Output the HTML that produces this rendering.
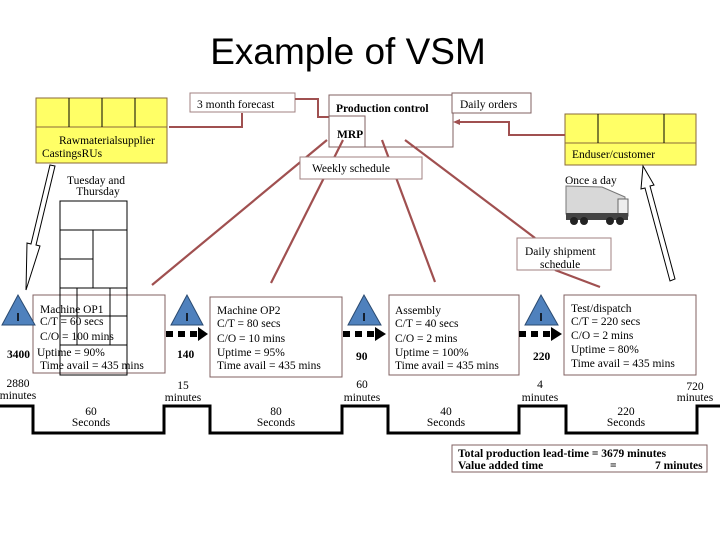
<!DOCTYPE html>
<html><head><meta charset="utf-8"><style>
html,body{margin:0;padding:0;background:#fff;width:720px;height:540px;overflow:hidden}
svg{display:block}
text{font-family:"Liberation Serif",serif;font-size:11.5px;fill:#000}
.b{font-weight:bold}
</style></head><body>
<svg width="720" height="540" viewBox="0 0 720 540">
<text x="348" y="64" text-anchor="middle" style="font-family:'Liberation Sans',sans-serif;font-size:37px">Example of VSM</text>

<!-- supplier -->
<rect x="36" y="98" width="131" height="65" fill="#ffff66" stroke="#8a6a3a"/>
<line x1="36" y1="127" x2="167" y2="127" stroke="#8a6a3a"/>
<g stroke="#000"><line x1="69" y1="98" x2="69" y2="127"/><line x1="102" y1="98" x2="102" y2="127"/><line x1="135" y1="98" x2="135" y2="127"/></g>
<text x="59" y="144">Rawmaterialsupplier</text>
<text x="42" y="157">CastingsRUs</text>

<!-- forecast -->
<rect x="190" y="93" width="105" height="19" fill="#fff" stroke="#a08080"/>
<text x="197" y="108">3 month forecast</text>
<polyline points="169,127 242,127 242,113" fill="none" stroke="#a05050" stroke-width="2"/>
<polyline points="295,99 318,99 318,117 329,117" fill="none" stroke="#a05050" stroke-width="2"/>

<!-- production control -->
<rect x="329" y="95" width="124" height="52" fill="#fff" stroke="#806060"/>
<rect x="329" y="116" width="36" height="31" fill="none" stroke="#806060"/>
<text x="336" y="112" class="b">Production control</text>
<text x="337" y="138" class="b">MRP</text>
<rect x="452" y="93" width="79" height="20" fill="#fff" stroke="#806060"/>
<text x="460" y="108">Daily orders</text>

<!-- customer -->
<rect x="565" y="114" width="131" height="51" fill="#ffff66" stroke="#8a6a3a"/>
<line x1="565" y1="143" x2="696" y2="143" stroke="#8a6a3a"/>
<g stroke="#000"><line x1="598" y1="114" x2="598" y2="143"/><line x1="664" y1="114" x2="664" y2="143"/></g>
<text x="572" y="158">Enduser/customer</text>
<polyline points="565,135 509,135 509,122 457,122" fill="none" stroke="#a05050" stroke-width="2"/>
<polygon points="453,122 460,119 460,125" fill="#a05050"/>

<!-- info lines -->
<g stroke="#a05050" stroke-width="2.2" fill="none">
<line x1="327" y1="140" x2="152" y2="285"/>
<line x1="343" y1="140" x2="271" y2="283"/>
<line x1="382" y1="140" x2="435" y2="282"/>
<line x1="405" y1="140" x2="535" y2="238"/>
<line x1="555" y1="270" x2="600" y2="287"/>
</g>
<rect x="300" y="157" width="122" height="22" fill="#fff" stroke="#a08080"/>
<text x="312" y="172">Weekly schedule</text>
<rect x="517" y="238" width="94" height="32" fill="#fff" stroke="#a08080"/>
<text x="525" y="255">Daily shipment</text>
<text x="540" y="268">schedule</text>

<text x="96" y="184" text-anchor="middle">Tuesday and</text>
<text x="98" y="195" text-anchor="middle">Thursday</text>
<text x="565" y="184">Once a day</text>

<!-- truck -->
<polygon points="566,186 602,187 625,197 625,214 566,214" fill="#d8d8d8" stroke="#777"/>
<rect x="618" y="199" width="10" height="17" fill="#eee" stroke="#666"/>
<rect x="566" y="213" width="62" height="7" fill="#444"/>
<circle cx="574" cy="221" r="4" fill="#222"/><circle cx="584" cy="221" r="4" fill="#222"/><circle cx="610" cy="221" r="4" fill="#222"/><circle cx="620" cy="221" r="4" fill="#222"/>

<!-- hollow arrows -->
<polygon points="50,165 55,166 36,245 40,246 26,290 27,243 31,244" fill="#fff" stroke="#000"/>
<polygon points="643,166 654,185 650,186 675,279 670,281 645,188 641,189" fill="#fff" stroke="#000"/>

<!-- process boxes -->
<rect x="33" y="295" width="132" height="78" fill="#fff" stroke="#806060"/>
<rect x="210" y="297" width="132" height="80" fill="#fff" stroke="#806060"/>
<rect x="389" y="295" width="130" height="80" fill="#fff" stroke="#806060"/>
<rect x="564" y="295" width="132" height="80" fill="#fff" stroke="#806060"/>

<!-- stack over OP1 -->
<g fill="none" stroke="#000">
<rect x="60" y="201" width="67" height="174"/>
<line x1="60" y1="230" x2="127" y2="230"/>
<line x1="93" y1="230" x2="93" y2="288"/>
<line x1="60" y1="259" x2="93" y2="259"/>
<line x1="60" y1="288" x2="127" y2="288"/>
<line x1="77" y1="288" x2="77" y2="345"/>
<line x1="110" y1="288" x2="110" y2="345"/>
<line x1="60" y1="316" x2="127" y2="316"/>
<line x1="60" y1="345" x2="127" y2="345"/>
</g>

<text x="40" y="313">Machine OP1</text>
<text x="40" y="325">C/T = 60 secs</text>
<text x="40" y="340">C/O = 100 mins</text>
<text x="37" y="356">Uptime = 90%</text>
<text x="40" y="369">Time avail = 435 mins</text>

<text x="217" y="314">Machine OP2</text>
<text x="217" y="327">C/T = 80 secs</text>
<text x="217" y="342">C/O = 10 mins</text>
<text x="217" y="356">Uptime = 95%</text>
<text x="217" y="369">Time avail = 435 mins</text>

<text x="395" y="314">Assembly</text>
<text x="395" y="327">C/T = 40 secs</text>
<text x="395" y="342">C/O = 2 mins</text>
<text x="395" y="356">Uptime = 100%</text>
<text x="395" y="369">Time avail = 435 mins</text>

<text x="571" y="312">Test/dispatch</text>
<text x="571" y="325">C/T = 220 secs</text>
<text x="571" y="339">C/O = 2 mins</text>
<text x="571" y="353">Uptime = 80%</text>
<text x="571" y="367">Time avail = 435 mins</text>

<!-- triangles -->
<g fill="#4f81bd" stroke="#2a4a70">
<polygon points="18,295 2,325 35,325"/>
<polygon points="187,295 171,325 203,325"/>
<polygon points="364,295 348,325 381,325"/>
<polygon points="541,295 525,325 558,325"/>
</g>
<g stroke="#000" stroke-width="1.5"><line x1="18" y1="313" x2="18" y2="321"/><line x1="187" y1="313" x2="187" y2="321"/><line x1="364" y1="313" x2="364" y2="321"/><line x1="541" y1="313" x2="541" y2="321"/></g>

<!-- dotted push arrows -->
<g fill="#000">
<rect x="166" y="331" width="7" height="6"/><rect x="178" y="331" width="7" height="6"/><rect x="190" y="331" width="7" height="6"/><polygon points="198,327 208,334 198,341"/>
<rect x="343" y="331" width="7" height="6"/><rect x="355" y="331" width="7" height="6"/><rect x="367" y="331" width="7" height="6"/><polygon points="375,327 386,334 375,341"/>
<rect x="519" y="331" width="7" height="6"/><rect x="531" y="331" width="7" height="6"/><rect x="543" y="331" width="7" height="6"/><polygon points="551,327 562,334 551,341"/>
</g>

<text x="7" y="358" class="b">3400</text>
<text x="177" y="358" class="b">140</text>
<text x="356" y="360" class="b">90</text>
<text x="533" y="360" class="b">220</text>

<!-- timeline -->
<polyline points="0,406 33,406 33,433 164,433 164,406 210,406 210,433 342,433 342,406 388,406 388,433 519,433 519,406 566,406 566,433 697,433 697,406 720,406" fill="none" stroke="#000" stroke-width="3"/>

<g text-anchor="middle">
<text x="18" y="387">2880</text><text x="18" y="399">minutes</text>
<text x="183" y="389">15</text><text x="183" y="401">minutes</text>
<text x="362" y="388">60</text><text x="362" y="401">minutes</text>
<text x="540" y="388">4</text><text x="540" y="401">minutes</text>
<text x="695" y="390">720</text><text x="695" y="401">minutes</text>
<text x="91" y="415">60</text><text x="91" y="426">Seconds</text>
<text x="276" y="415">80</text><text x="276" y="426">Seconds</text>
<text x="446" y="415">40</text><text x="446" y="426">Seconds</text>
<text x="626" y="415">220</text><text x="626" y="426">Seconds</text>
</g>

<rect x="452" y="445" width="255" height="27" fill="#fff" stroke="#806060"/>
<text x="458" y="457" class="b">Total production lead-time = 3679 minutes</text>
<text x="458" y="469" class="b">Value added time</text>
<text x="610" y="469" class="b">=</text>
<text x="655" y="469" class="b">7 minutes</text>
</svg>
</body></html>
